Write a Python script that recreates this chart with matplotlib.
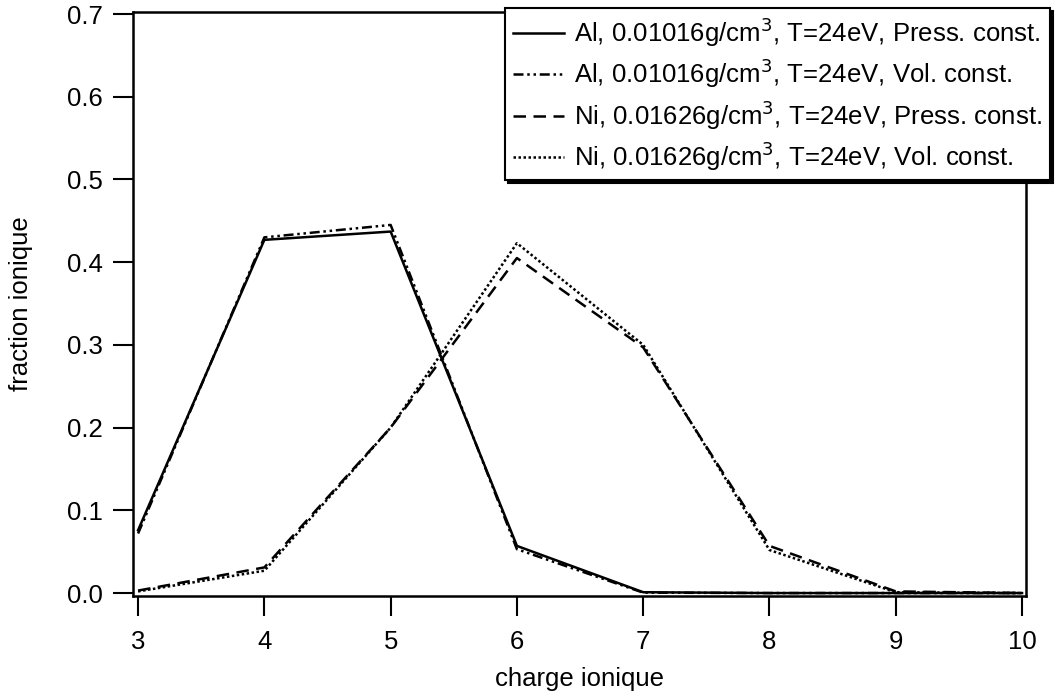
import matplotlib.pyplot as plt

plt.rcParams['font.family'] = ['Liberation Sans', 'DejaVu Sans']

# -------------------------------
# DATA
# -------------------------------
charge = [3, 4, 5, 6, 7, 8, 9, 10]

al_press = [0.076, 0.427, 0.437, 0.057, 0.001, 0.0, 0.0, 0.0]
al_vol = [0.072, 0.430, 0.445, 0.053, 0.0005, 0.0, 0.0, 0.0]
ni_press = [0.003, 0.031, 0.200, 0.405, 0.297, 0.057, 0.002, 0.0]
ni_vol = [0.002, 0.027, 0.200, 0.423, 0.300, 0.052, 0.001, 0.0]

labels = [
    'Al, 0.01016g/cm$^3$, T=24eV, Press. const.',
    'Al, 0.01016g/cm$^3$, T=24eV, Vol. const.',
    'Ni, 0.01626g/cm$^3$, T=24eV, Press. const.',
    'Ni, 0.01626g/cm$^3$, T=24eV, Vol. const.',
]

# -------------------------------
# PLOT
# -------------------------------
fig = plt.figure(figsize=(10.6, 6.95), dpi=100)
ax = fig.add_axes([0.1255, 0.1424, 0.8425, 0.8403])

lw = 1.8
ax.plot(charge, al_press, color='black', lw=lw, ls='-', label=labels[0])
ax.plot(charge, al_vol, color='black', lw=lw, ls=(0, (4, 1.5, 1, 1.5, 1, 1.5)), label=labels[1])
ax.plot(charge, ni_press, color='black', lw=lw, ls=(0, (5, 3)), label=labels[2])
ax.plot(charge, ni_vol, color='black', lw=lw, ls=(0, (1, 1)), label=labels[3])

ax.set_xlim(2.96, 10.032)
ax.set_ylim(-0.0036, 0.7024)
ax.set_xticks(range(3, 11))
ax.set_yticks([0.0, 0.1, 0.2, 0.3, 0.4, 0.5, 0.6, 0.7])
ax.set_yticklabels(['0.0', '0.1', '0.2', '0.3', '0.4', '0.5', '0.6', '0.7'])
ax.tick_params(direction='out', length=14.5, width=1.5, labelsize=18.5)
ax.tick_params(axis='x', pad=10)
ax.tick_params(axis='y', pad=7)
for s in ax.spines.values():
    s.set_linewidth(1.8)

ax.set_xlabel('charge ionique', fontsize=18.5, labelpad=9)
ax.set_ylabel('fraction ionique', fontsize=18.5, labelpad=25)

leg = ax.legend(loc='upper left', bbox_to_anchor=(0.4166, 1.007), fontsize=18.5,
                frameon=True, fancybox=False, shadow={'color': 'black', 'alpha': 1},
                handlelength=2.0, handletextpad=0.4, borderpad=0.3,
                labelspacing=0.3, borderaxespad=0)
leg.get_frame().set_edgecolor('black')
leg.get_frame().set_linewidth(1.5)
leg.set_zorder(5)

plt.savefig('out.png', dpi=100)
